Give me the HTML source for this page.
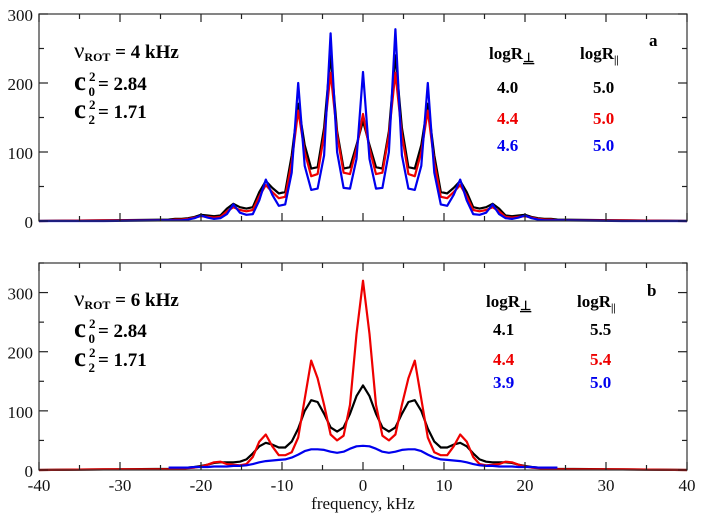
<!DOCTYPE html>
<html><head><meta charset="utf-8">
<style>
body{margin:0;background:#fff;}
svg{display:block;font-family:"Liberation Serif",serif;}
.t{font-size:17px;fill:#111;}
.b{font-weight:bold;font-size:17px;}
.L{font-weight:bold;font-size:19px;}
</style></head>
<body>
<svg id="chart" width="704" height="520">
<g id="panels"></g>
<text x="363" y="509" text-anchor="middle" class="t">frequency, kHz</text>

<g>
<text x="74" y="58" class="L"><tspan font-size="23" font-weight="normal">ν</tspan><tspan font-size="12" dy="3">ROT</tspan><tspan dy="-3"> = 4 kHz</tspan></text>
<text x="74" y="90" class="L"><tspan font-size="27">c</tspan><tspan font-size="13" dx="3" dy="-9">2</tspan><tspan font-size="13" dx="-7" dy="15">0</tspan><tspan dy="-6" dx="3">= 2.84</tspan></text>
<text x="74" y="118" class="L"><tspan font-size="27">c</tspan><tspan font-size="13" dx="3" dy="-9">2</tspan><tspan font-size="13" dx="-7" dy="15">2</tspan><tspan dy="-6" dx="3">= 1.71</tspan></text>
<text x="489" y="59" class="b">logR<tspan font-size="13" dy="3" text-decoration="underline">⊥</tspan></text>
<text x="580" y="59" class="b">logR<tspan font-size="11" dy="4">||</tspan></text>
<text x="649" y="46" class="b" font-size="20">a</text>
<text x="497" y="93" class="b" fill="#000">4.0</text>
<text x="593" y="93" class="b" fill="#000">5.0</text>
<text x="497" y="124" class="b" fill="#e00">4.4</text>
<text x="593" y="124" class="b" fill="#e00">5.0</text>
<text x="497" y="151" class="b" fill="#00e">4.6</text>
<text x="593" y="151" class="b" fill="#00e">5.0</text>
</g>

<g>
<text x="74" y="306" class="L"><tspan font-size="23" font-weight="normal">ν</tspan><tspan font-size="12" dy="3">ROT</tspan><tspan dy="-3"> = 6 kHz</tspan></text>
<text x="74" y="337" class="L"><tspan font-size="27">c</tspan><tspan font-size="13" dx="3" dy="-9">2</tspan><tspan font-size="13" dx="-7" dy="15">0</tspan><tspan dy="-6" dx="3">= 2.84</tspan></text>
<text x="74" y="366" class="L"><tspan font-size="27">c</tspan><tspan font-size="13" dx="3" dy="-9">2</tspan><tspan font-size="13" dx="-7" dy="15">2</tspan><tspan dy="-6" dx="3">= 1.71</tspan></text>
<text x="486" y="307" class="b">logR<tspan font-size="13" dy="3" text-decoration="underline">⊥</tspan></text>
<text x="577" y="307" class="b">logR<tspan font-size="11" dy="4">||</tspan></text>
<text x="647" y="296" class="b" font-size="20">b</text>
<text x="493" y="335" class="b" fill="#000">4.1</text>
<text x="590" y="335" class="b" fill="#000">5.5</text>
<text x="493" y="365" class="b" fill="#e00">4.4</text>
<text x="590" y="365" class="b" fill="#e00">5.4</text>
<text x="493" y="388" class="b" fill="#00e">3.9</text>
<text x="590" y="388" class="b" fill="#00e">5.0</text>
</g>
</svg>
<script>
const freq=[-40,-32,-24,-23.2,-22.4,-21.6,-20.8,-20,-19.2,-18.4,-17.6,-16.8,-16,-15.2,-14.4,-13.6,-12.8,-12,-11.2,-10.4,-9.6,-8.8,-8,-7.2,-6.4,-5.6,-4.8,-4,-3.2,-2.4,-1.6,-0.8,0,0.8,1.6,2.4,3.2,4,4.8,5.6,6.4,7.2,8,8.8,9.6,10.4,11.2,12,12.8,13.6,14.4,15.2,16,16.8,17.6,18.4,19.2,20,20.8,21.6,22.4,23.2,24,32,40];
const blackA=[0,1,2,3,3,4,6,9,8,7,8,18,25,20,18,20,42,58,48,40,42,95,170,110,76,78,135,240,130,76,78,110,145,110,78,76,130,240,135,78,76,110,170,95,42,40,48,58,42,20,18,20,25,18,8,7,8,9,6,4,3,3,2,1,0];
const redA=[0,1,1,2,2,3,5,7,6,5,6,14,20,16,14,16,36,52,42,33,35,85,160,100,65,68,125,215,125,70,68,105,155,105,68,70,125,215,125,68,65,100,160,85,35,33,42,52,36,16,14,16,20,14,6,5,6,7,5,3,2,2,1,1,0];
const blueA=[0,0,1,1,1,2,4,8,5,3,4,10,24,12,9,10,30,60,38,22,24,70,200,80,45,47,95,272,100,48,47,90,216,90,47,48,100,278,95,47,45,80,200,70,24,22,38,60,30,10,9,12,24,10,4,3,5,8,4,2,1,1,1,0,0];
const redB=[0,1,1,2,2,3,4,6,9,13,14,10,9,8,10,22,48,60,40,25,25,30,55,120,185,155,110,60,50,58,110,230,320,230,110,58,50,60,110,155,185,120,55,30,25,25,40,60,48,22,10,8,9,10,14,13,9,6,4,3,2,2,1,1,0];
const blackB=[0,1,2,3,3,4,5,7,9,12,13,13,13,14,18,28,40,46,43,38,38,48,70,100,118,115,95,72,65,72,95,125,143,125,95,72,65,72,95,115,118,100,70,48,38,38,43,46,40,28,18,14,13,13,13,12,9,7,5,4,3,3,2,1,0];
const blueB=[null,null,4,4,4,4,5,5,5,6,6,6,7,7,8,10,13,15,16,17,18,21,26,32,35,35,34,31,29,31,36,40,41,40,36,31,29,31,34,35,35,32,26,21,18,17,16,15,13,10,8,7,7,6,6,6,5,5,5,4,4,4,4,null,null];
const xTicks=[-40,-30,-20,-10,0,10,20,30,40];
const yTicksA=[0,100,200,300];
const yTicksB=[0,100,200,300];

const NS="http://www.w3.org/2000/svg";
const X0=39,X1=687;
function xs(f){return X0+(f+40)/80*(X1-X0);}
function mk(tag,attrs,parent){const e=document.createElementNS(NS,tag);for(const k in attrs)e.setAttribute(k,attrs[k]);parent.appendChild(e);return e;}
const root=document.getElementById('panels');

function panel(name,top,bottom,ymax,yTicks,series,showX){
  const g=mk('g',{},root);
  
  
  const ys=v=>bottom-v/ymax*(bottom-top);
  series.forEach(s=>{
    let d='',pen=false;
    for(let i=0;i<freq.length;i++){
      const v=s.vals[i];
      if(v===null){pen=false;continue;}
      d+=(pen?'L':'M')+xs(freq[i]).toFixed(1)+' '+ys(v).toFixed(1)+' ';pen=true;
    }
    const p=mk('path',{d:d,fill:'none',stroke:s.color,'stroke-width':2.2,'stroke-linejoin':'round'},g);
    
    
  });
  const fr=mk('rect',{x:X0,y:top,width:X1-X0,height:bottom-top,fill:'none',stroke:'#333','stroke-width':1.2},g);
  
  
  const tk=mk('g',{stroke:'#222','stroke-width':1.2},g);
  
  
  for(let f=-40;f<=40;f+=5){
    const L=(f%10===0)?8:5,x=xs(f);
    mk('line',{x1:x,y1:bottom,x2:x,y2:bottom-L},tk);
    mk('line',{x1:x,y1:top,x2:x,y2:top+L},tk);
  }
  for(let v=0;v<=ymax;v+=50){
    const L=(v%100===0)?9:5,y=ys(v);
    mk('line',{x1:X0,y1:y,x2:X0+L,y2:y},tk);
    mk('line',{x1:X1,y1:y,x2:X1-L,y2:y},tk);
  }
  yTicks.forEach(v=>{
    const t=mk('text',{x:X0-6,y:ys(v)+7,'text-anchor':'end',class:'t'},g);
    t.textContent=v;
    
    
  });
  if(showX){
    xTicks.forEach(f=>{
      const t=mk('text',{x:xs(f),y:bottom+21,'text-anchor':'middle',class:'t'},g);
      t.textContent=f;
      
      
    });
  }
}
panel('panel-a',14,221,300,yTicksA,[
  {name:'series-black-a',color:'#000',vals:blackA},
  {name:'series-red-a',color:'#e00',vals:redA},
  {name:'series-blue-a',color:'#00e',vals:blueA}],false);
panel('panel-b',263,470,350,yTicksB,[
  {name:'series-black-b',color:'#000',vals:blackB},
  {name:'series-red-b',color:'#e00',vals:redB},
  {name:'series-blue-b',color:'#00e',vals:blueB}],true);
</script>
</body></html>
